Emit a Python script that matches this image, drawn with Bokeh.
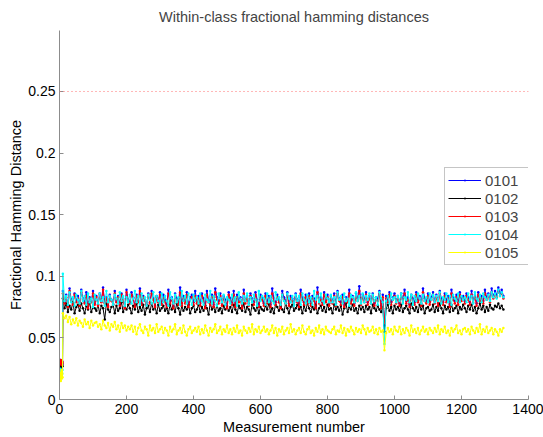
from bokeh.plotting import figure
from bokeh.models import Span, Legend, LegendItem, FixedTicker, Range1d
from bokeh.embed import file_html
from bokeh.resources import INLINE

# measurement numbers: first 9 measurements, then every 5th
measurements = list(range(1, 10)) + list(range(10, 1326, 5))

# values in thousandths
s0101 = [31, 30, 32, 29, 31, 30, 28, 31, 29,
         88, 79, 85, 76, 90, 81, 78, 86, 80, 84, 77, 89, 82, 79, 87, 75, 83, 80, 88, 78,
         84, 77, 86, 80, 91, 79, 83, 76, 85, 81, 78, 88, 80, 84, 77, 86, 82, 75, 89, 81,
         79, 87, 83, 76, 85, 80, 90, 78, 84, 81, 77, 86, 79, 88, 82, 76, 84, 80, 87, 78,
         85, 81, 77, 89, 80, 83, 76, 86, 82, 79, 91, 78, 84, 80, 87, 77, 83, 85, 79, 88,
         80, 84, 78, 86, 82, 76, 88, 81, 79, 85, 77, 90, 83, 80, 86, 78, 84, 81, 76, 87,
         82, 79, 88, 77, 85, 81, 83, 76, 89, 80, 84, 78, 86, 82, 79, 87, 81, 77, 85, 83,
         78, 86, 80, 84, 77, 90, 82, 79, 85, 81, 76, 88, 83, 80, 87, 78, 84, 82, 79, 86,
         81, 77, 89, 83, 79, 85, 80, 86, 78, 84, 82, 76, 91, 80, 83, 79, 87, 81, 85, 78,
         84, 80, 86, 78, 88, 82, 79, 85, 77, 83, 81, 89, 80, 84, 78, 86, 82, 92, 79, 85,
         81, 87, 79, 84, 80, 86, 78, 83, 82, 88, 76, 85, 60, 84, 81, 87, 79, 83, 86, 80,
         84, 78, 86, 81, 89, 80, 83, 77, 85, 82, 79, 87, 81, 84, 78, 90, 82, 80, 86, 79,
         83, 87, 80, 85, 78, 88, 82, 79, 86, 81, 84, 77, 89, 83, 80, 85, 79, 87, 82, 84,
         80, 86, 83, 79, 88, 81, 85, 78, 87, 82, 84, 80, 89, 83, 86, 81, 90, 84, 88, 85,
         91, 86, 89, 84]
s0102 = [28, 27, 29, 26, 28, 27, 25, 28, 27,
         82, 74, 78, 71, 76, 73, 79, 70, 75, 77, 72, 78, 74, 70, 76, 73, 79, 71, 75, 74,
         72, 77, 70, 76, 74, 65, 78, 73, 71, 75, 77, 70, 76, 72, 74, 79, 71, 75, 73, 77,
         74, 70, 76, 73, 78, 71, 75, 72, 77, 69, 74, 76, 71, 78, 73, 75, 70, 77, 72, 74,
         76, 72, 74, 70, 77, 73, 75, 71, 78, 74, 69, 76, 72, 75, 73, 77, 70, 74, 76, 71,
         73, 77, 71, 75, 72, 76, 74, 69, 78, 73, 75, 71, 77, 72, 74, 70, 76, 73, 75, 72,
         75, 71, 77, 73, 70, 76, 74, 72, 78, 71, 75, 73, 69, 77, 74, 72, 76, 70, 75, 73,
         72, 76, 73, 78, 71, 74, 70, 77, 75, 72, 76, 73, 71, 78, 74, 70, 75, 77, 72, 74,
         77, 73, 75, 70, 76, 72, 78, 74, 71, 75, 73, 77, 70, 74, 76, 72, 75, 71, 77, 73,
         74, 70, 77, 73, 75, 72, 76, 69, 74, 78, 71, 75, 73, 77, 72, 74, 70, 76, 73, 75,
         71, 76, 73, 75, 70, 77, 74, 72, 76, 73, 71, 75, 55, 74, 77, 72, 75, 70, 76, 73,
         75, 72, 77, 71, 74, 76, 73, 70, 78, 74, 72, 75, 71, 77, 73, 76, 70, 74, 75, 72,
         73, 77, 71, 75, 72, 78, 74, 70, 76, 73, 75, 71, 77, 72, 74, 76, 70, 75, 73, 77,
         74, 71, 76, 73, 77, 72, 75, 70, 74, 78, 73, 76, 71, 75, 72, 77, 74, 73, 76, 75,
         78, 74, 76, 73]
s0103 = [30, 31, 29, 32, 30, 28, 31, 29, 30,
         86, 78, 83, 75, 88, 80, 77, 85, 79, 82, 76, 87, 81, 78, 84, 74, 82, 79, 86, 77,
         83, 76, 85, 79, 89, 78, 82, 75, 84, 80, 77, 86, 79, 83, 76, 85, 81, 74, 87, 80,
         78, 85, 82, 75, 84, 79, 88, 77, 83, 80, 76, 85, 78, 86, 81, 75, 83, 79, 85, 77,
         82, 79, 75, 86, 78, 81, 74, 84, 80, 77, 87, 76, 82, 78, 85, 75, 81, 83, 77, 84,
         78, 82, 76, 84, 80, 74, 85, 79, 77, 83, 75, 87, 81, 78, 84, 76, 82, 79, 74, 85,
         80, 77, 85, 75, 83, 79, 81, 74, 86, 78, 82, 76, 84, 80, 77, 85, 79, 75, 83, 81,
         76, 84, 78, 82, 75, 86, 80, 77, 83, 79, 74, 85, 81, 78, 84, 76, 82, 80, 77, 83,
         79, 75, 86, 81, 77, 83, 78, 84, 76, 82, 80, 74, 87, 78, 81, 77, 85, 79, 83, 76,
         82, 78, 84, 76, 86, 80, 77, 83, 75, 81, 79, 86, 78, 82, 76, 84, 80, 88, 77, 83,
         79, 85, 77, 82, 78, 84, 76, 81, 80, 86, 74, 83, 62, 82, 79, 85, 77, 81, 84, 78,
         82, 76, 84, 79, 86, 78, 81, 75, 83, 80, 77, 85, 79, 82, 76, 87, 80, 78, 84, 77,
         81, 85, 78, 83, 76, 86, 80, 77, 84, 79, 82, 75, 86, 81, 78, 83, 77, 85, 80, 82,
         78, 84, 81, 77, 85, 79, 83, 76, 85, 80, 82, 78, 86, 81, 84, 79, 87, 82, 85, 83,
         88, 84, 86, 82]
s0104 = [24, 22, 25, 20, 23, 18, 22, 21, 24,
         102, 80, 84, 77, 87, 79, 83, 76, 85, 81, 78, 88, 80, 84, 77, 86, 79, 82, 75, 85,
         81, 78, 86, 80, 83, 76, 88, 79, 84, 81, 77, 85, 82, 78, 87, 80, 84, 76, 83, 79,
         85, 78, 82, 88, 79, 84, 77, 86, 80, 83, 76, 85, 81, 78, 87, 79, 84, 80, 77, 86,
         79, 84, 80, 76, 87, 82, 78, 85, 79, 83, 77, 88, 80, 84, 78, 86, 81, 77, 85, 80,
         83, 78, 86, 80, 77, 85, 81, 79, 88, 78, 84, 80, 76, 86, 82, 79, 85, 77, 83, 81,
         78, 85, 80, 83, 76, 87, 81, 78, 84, 80, 86, 77, 83, 79, 85, 81, 76, 88, 80, 84,
         82, 77, 86, 79, 84, 80, 78, 87, 81, 83, 77, 85, 80, 78, 86, 82, 79, 84, 76, 85,
         80, 84, 77, 86, 81, 78, 85, 79, 83, 77, 88, 81, 84, 79, 86, 80, 78, 85, 82, 79,
         85, 79, 83, 77, 87, 81, 84, 78, 86, 80, 82, 76, 85, 83, 79, 87, 80, 84, 78, 86,
         79, 84, 81, 86, 78, 85, 80, 83, 77, 87, 82, 79, 45, 80, 84, 78, 86, 81, 83, 79,
         84, 80, 86, 78, 83, 81, 87, 79, 85, 77, 84, 80, 86, 82, 78, 85, 80, 83, 79, 86,
         81, 85, 79, 84, 80, 87, 78, 83, 81, 86, 79, 84, 77, 85, 82, 80, 86, 79, 84, 81,
         83, 79, 86, 81, 84, 78, 87, 82, 80, 85, 79, 86, 83, 81, 85, 80, 87, 83, 86, 82,
         89, 84, 87, 83]
s0105 = [20, 16, 22, 15, 19, 24, 17, 21, 18,
         70, 66, 68, 63, 67, 61, 65, 62, 66, 60, 64, 62, 59, 65, 61, 63, 58, 64, 60, 62,
         63, 59, 61, 57, 64, 60, 58, 62, 56, 61, 59, 63, 57, 60, 55, 62, 58, 60, 56, 59,
         57, 60, 55, 59, 53, 58, 61, 56, 54, 59, 57, 52, 60, 56, 58, 54, 61, 55, 57, 59,
         54, 58, 56, 52, 59, 55, 57, 61, 53, 56, 58, 54, 60, 55, 52, 57, 59, 54, 56, 58,
         55, 59, 53, 57, 54, 60, 56, 52, 58, 55, 57, 61, 54, 56, 59, 53, 57, 55, 60, 54,
         57, 53, 58, 55, 60, 54, 56, 52, 59, 56, 54, 58, 55, 61, 53, 57, 55, 59, 54, 56,
         59, 55, 57, 53, 56, 60, 54, 58, 52, 57, 55, 59, 53, 56, 58, 54, 61, 55, 57, 53,
         56, 58, 54, 60, 55, 53, 57, 59, 54, 56, 52, 58, 55, 60, 54, 57, 53, 59, 56, 55,
         54, 57, 59, 53, 56, 55, 60, 54, 58, 52, 57, 55, 59, 56, 53, 58, 55, 57, 54, 60,
         57, 53, 58, 55, 56, 59, 54, 57, 53, 58, 55, 56, 40, 54, 58, 55, 57, 53, 59, 56,
         55, 59, 53, 57, 54, 58, 56, 52, 60, 55, 57, 54, 58, 53, 56, 59, 55, 57, 53, 58,
         56, 54, 58, 55, 60, 53, 57, 55, 59, 54, 56, 52, 58, 55, 57, 60, 54, 56, 53, 57,
         58, 55, 57, 53, 59, 56, 54, 58, 55, 61, 53, 57, 55, 59, 54, 56, 58, 53, 57, 55,
         52, 57, 55, 58]

series_names = ["0101", "0102", "0103", "0104", "0105"]
series_values = [s0101, s0102, s0103, s0104, s0105]
series_colors = ["#0000ff", "#000000", "#ff0000", "#00ffff", "#ffff00"]
threshold = 0.25

x_ticks = [0, 200, 400, 600, 800, 1000, 1200, 1400]
y_ticks = [0, 0.05, 0.1, 0.15, 0.2, 0.25]
y_tick_labels = ["0", "0.05", "0.1", "0.15", "0.2", "0.25"]

FONT = "Liberation Sans"

p = figure(width=543, height=437, output_backend="svg", toolbar_location=None,
           x_range=Range1d(0, 1400), y_range=Range1d(0, 0.2995),
           min_border_left=59, min_border_right=15, min_border_top=30,
           min_border_bottom=38,
           title="Within-class fractional hamming distances")
p.title.text_font = FONT
p.title.text_font_size = "14.5px"
p.title.text_font_style = "normal"
p.title.align = "center"
p.title.standoff = 11
p.outline_line_color = None
p.grid.visible = False
p.background_fill_color = "white"
p.border_fill_color = "white"

for ax in (p.xaxis[0], p.yaxis[0]):
    ax.axis_line_color = "#8c8c8c"
    ax.major_tick_line_color = "#8c8c8c"
    ax.major_tick_in = 4
    ax.major_tick_out = 0
    ax.minor_tick_line_color = None
    ax.major_label_text_font = FONT
    ax.major_label_text_font_size = "14px"
    ax.major_label_text_color = "black"
    ax.axis_label_text_font = FONT
    ax.axis_label_text_font_size = "14.5px"
    ax.axis_label_text_font_style = "normal"
    ax.axis_label_text_color = "black"

p.xaxis.ticker = FixedTicker(ticks=x_ticks)
p.yaxis.ticker = FixedTicker(ticks=y_ticks)
p.yaxis.major_label_overrides = {t: l for t, l in zip(y_ticks, y_tick_labels)}
p.xaxis.axis_label = "Measurement number"
p.yaxis.axis_label = "Fractional Hamming Distance"
p.xaxis.major_label_standoff = 4
p.yaxis.major_label_standoff = 4
p.xaxis.axis_label_standoff = 2
p.yaxis.axis_label_standoff = 1

p.add_layout(Span(location=threshold, dimension="width", line_color="#ff7070",
                  line_dash="1 3", line_width=1))

items = []
for name, vals, col in zip(series_names, series_values, series_colors):
    ys = [v / 1000 for v in vals]
    ln = p.line(measurements, ys, line_color=col, line_width=1)
    sc = p.scatter(measurements, ys, marker="dot", size=10, line_color=col,
                   fill_color=col)
    items.append(LegendItem(label=name, renderers=[ln, sc]))

legend = Legend(items=items, location=(385, 134))
legend.label_text_font = FONT
legend.label_text_font_size = "15px"
legend.border_line_color = "#8c8c8c"
legend.glyph_width = 33
legend.glyph_height = 18
legend.label_height = 18
legend.label_width = 52
legend.spacing = 0
legend.padding = 3
legend.margin = 0
legend.label_standoff = 4
p.add_layout(legend)

open("out.html", "w").write(file_html(p, INLINE))
